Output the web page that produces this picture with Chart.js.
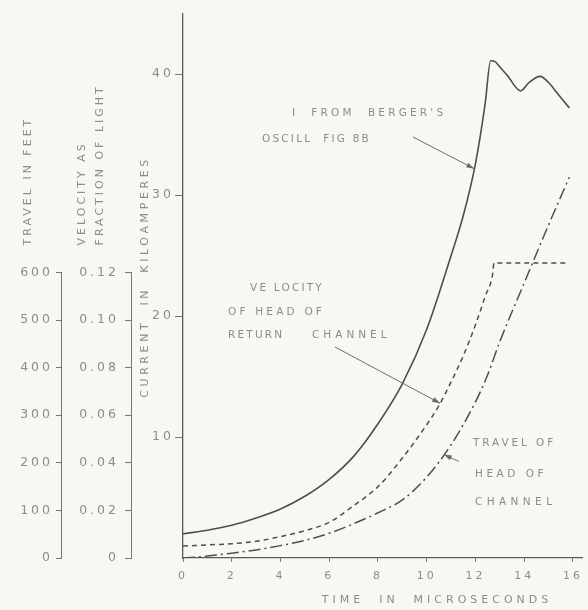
<!DOCTYPE html>
<html>
<head>
<meta charset="utf-8">
<script src="https://cdn.jsdelivr.net/npm/chart.js@4.4.1/dist/chart.umd.min.js"></script>
<style>
  html, body { margin: 0; padding: 0; background: #f7f7f4; }
  canvas { display: block; }
</style>
</head>
<body>
<canvas id="chart" width="588" height="610"></canvas>
<script>
// Tick values for each axis
const timeTicks = [0, 2, 4, 6, 8, 10, 12, 14, 16];
const currentTicks = [10, 20, 30, 40];
const travelTicks = [0, 100, 200, 300, 400, 500, 600];
const velocityTicks = [0, 0.02, 0.04, 0.06, 0.08, 0.10, 0.12];
const velocityTickLabels = ['0', '0.02', '0.04', '0.06', '0.08', '0.10', '0.12'];

// Current from Berger's oscillogram (kA) against time (microseconds)
const currentTime = [0, 1, 2, 3, 4, 5, 6, 7, 8, 9, 10, 11, 11.5, 12, 12.4, 12.62, 12.82, 12.95, 13.3, 13.85, 14.2, 14.65, 15.0, 15.4, 15.85];
const currentKA   = [2.0, 2.3, 2.7, 3.3, 4.05, 5.1, 6.5, 8.4, 11.1, 14.4, 18.9, 25.0, 28.3, 32.6, 37.6, 41.1, 41.0, 40.7, 39.9, 38.6, 39.3, 39.8, 39.3, 38.3, 37.2];

// Velocity of head of return channel, as a fraction of the speed of light
const velocityTime = [0, 1, 2, 3, 4, 5, 6, 7, 8, 9, 10, 10.5, 11, 11.5, 12, 12.4, 12.7, 12.76, 15.85];
const velocity     = [0.005, 0.0055, 0.006, 0.007, 0.009, 0.0115, 0.015, 0.022, 0.030, 0.042, 0.056, 0.064, 0.074, 0.085, 0.098, 0.110, 0.119, 0.124, 0.124];

// Travel of head of channel (feet)
const travelTime = [0, 1, 2, 3, 4, 5, 6, 7, 8, 9, 10, 11, 12, 12.5, 13, 14, 15, 15.85];
const travelFt   = [0, 4, 10, 17, 26, 37, 52, 72, 95, 122, 170, 238, 328, 385, 455, 578, 700, 800];

// Scale ranges: the 600 ft / 0.12 c level sits at 23.6 kA on the current scale
const xMax = 16.4;
const iMax = 45;
const levelKA = 23.6;
const travelMax = 600 * iMax / levelKA;
const velocityMax = 0.12 * iMax / levelKA;

const INK = '#4e4e4e';
const TEXT = '#8c8c8c';
const FONT = "'DejaVu Sans', sans-serif";

const toXY = (xs, ys) => xs.map((t, i) => ({ x: t, y: ys[i] }));

function valueAt(xs, ys, t) {
  for (let i = 1; i < xs.length; i++) {
    if (t <= xs[i]) {
      const f = (t - xs[i - 1]) / (xs[i] - xs[i - 1]);
      return ys[i - 1] + f * (ys[i] - ys[i - 1]);
    }
  }
  return ys[ys.length - 1];
}

function spacedText(ctx, text, x, y, size, spacing, align) {
  ctx.font = size + 'px ' + FONT;
  ctx.letterSpacing = spacing + 'px';
  ctx.textAlign = align || 'left';
  ctx.textBaseline = 'middle';
  ctx.fillText(text, x, y);
}

function arrow(ctx, x0, y0, x1, y1, head) {
  ctx.beginPath();
  ctx.moveTo(x0, y0);
  ctx.lineTo(x1, y1);
  ctx.stroke();
  if (!head) return;
  const a = Math.atan2(y1 - y0, x1 - x0);
  const L = 8, W = 2.6;
  ctx.beginPath();
  ctx.moveTo(x1, y1);
  ctx.lineTo(x1 - L * Math.cos(a) + W * Math.sin(a), y1 - L * Math.sin(a) - W * Math.cos(a));
  ctx.lineTo(x1 - L * Math.cos(a) - W * Math.sin(a), y1 - L * Math.sin(a) + W * Math.cos(a));
  ctx.closePath();
  ctx.fill();
}

const tickSpacing = {
  id: 'tickSpacing',
  beforeDraw(chart) { chart.ctx.letterSpacing = '3px'; }
};

const annotations = {
  id: 'annotations',
  afterDraw(chart) {
    const { ctx } = chart;
    const { x, yI, yV, yT } = chart.scales;
    ctx.save();

    // partial axis lines for travel and velocity
    ctx.strokeStyle = '#777';
    ctx.lineWidth = 1;
    [[yT, 600], [yV, 0.12]].forEach(([s, top]) => {
      const px = Math.round(s.right) - 0.5;
      ctx.beginPath();
      ctx.moveTo(px, s.getPixelForValue(top));
      ctx.lineTo(px, s.getPixelForValue(0));
      ctx.stroke();
    });

    // axis titles
    ctx.fillStyle = TEXT;
    const titleBase = yT.getPixelForValue(600) - 27;
    const rotated = (text, cx, y, size, sp, align) => {
      ctx.save();
      ctx.translate(cx, y);
      ctx.rotate(-Math.PI / 2);
      spacedText(ctx, text, 0, 0, size, sp, align);
      ctx.restore();
    };
    rotated('TRAVEL IN FEET', 28, titleBase, 11, 3, 'left');
    rotated('VELOCITY AS', 82, titleBase, 11, 3, 'left');
    rotated('FRACTION OF LIGHT', 100, titleBase, 11, 3, 'left');
    rotated('CURRENT  IN  KILOAMPERES', 145, 277, 11, 3.6, 'center');
    spacedText(ctx, 'TIME  IN  MICROSECONDS', 437, 600, 11, 4, 'center');

    // curve labels
    spacedText(ctx, "I  FROM  BERGER'S", 292, 113, 10.5, 3.2, 'left');
    spacedText(ctx, 'OSCILL  FIG 8B', 262, 139, 10.5, 2.2, 'left');
    spacedText(ctx, 'VE LOCITY', 250, 288, 10.5, 2.2, 'left');
    spacedText(ctx, 'OF HEAD OF', 228, 312, 10.5, 3.2, 'left');
    spacedText(ctx, 'RETURN', 228, 335, 10.5, 2.2, 'left');
    spacedText(ctx, 'CHANNEL', 312, 335, 10.5, 4, 'left');
    spacedText(ctx, 'TRAVEL OF', 473, 443, 10.5, 2.9, 'left');
    spacedText(ctx, 'HEAD OF', 475, 474, 10.5, 3.5, 'left');
    spacedText(ctx, 'CHANNEL', 475, 502, 10.5, 4.4, 'left');

    // leader arrows onto the curves
    ctx.strokeStyle = '#6a6a6a';
    ctx.fillStyle = '#6a6a6a';
    ctx.lineWidth = 1;
    const tI = 11.95;
    arrow(ctx, 413, 137, x.getPixelForValue(tI), yI.getPixelForValue(valueAt(currentTime, currentKA, tI)), true);
    const tV = 10.55;
    arrow(ctx, 335, 347, x.getPixelForValue(tV), yV.getPixelForValue(valueAt(velocityTime, velocity, tV)), true);
    const tT = 10.7;
    const px = x.getPixelForValue(tT), py = yT.getPixelForValue(valueAt(travelTime, travelFt, tT));
    arrow(ctx, px + 15, py + 7, px, py, true);

    ctx.restore();
  }
};

const fixedTicks = (values) => (scale) => { scale.ticks = values.map(v => ({ value: v })); };

new Chart(document.getElementById('chart'), {
  type: 'line',
  data: {
    datasets: [
      {
        label: 'Current',
        data: toXY(currentTime, currentKA),
        yAxisID: 'yI',
        borderColor: INK,
        borderWidth: 1.6,
        pointRadius: 0,
        cubicInterpolationMode: 'monotone',
        fill: false
      },
      {
        label: 'Velocity',
        data: toXY(velocityTime, velocity),
        yAxisID: 'yV',
        borderColor: INK,
        borderWidth: 1.5,
        borderDash: [5, 4],
        pointRadius: 0,
        cubicInterpolationMode: 'monotone',
        fill: false
      },
      {
        label: 'Travel',
        data: toXY(travelTime, travelFt),
        yAxisID: 'yT',
        borderColor: INK,
        borderWidth: 1.5,
        borderDash: [12, 4, 2, 4],
        pointRadius: 0,
        cubicInterpolationMode: 'monotone',
        fill: false
      }
    ]
  },
  options: {
    responsive: false,
    animation: false,
    devicePixelRatio: 1,
    layout: { padding: { top: 12, right: 1, bottom: 0, left: 0 } },
    plugins: { legend: { display: false }, tooltip: { enabled: false } },
    scales: {
      x: {
        type: 'linear',
        position: 'bottom',
        min: 0,
        max: xMax,
        afterBuildTicks: fixedTicks(timeTicks),
        afterFit: (s) => { s.height = 52; },
        grid: { drawOnChartArea: false, drawTicks: true, tickLength: 4, color: '#777' },
        border: { display: true, color: '#5a5a5a', width: 1.3 },
        ticks: { color: TEXT, font: { family: FONT, size: 11 }, padding: 8, maxRotation: 0, callback: (v) => String(v) }
      },
      yI: {
        type: 'linear',
        position: 'left',
        weight: 1,
        min: 0,
        max: iMax,
        afterBuildTicks: fixedTicks(currentTicks),
        afterFit: (s) => { s.width = 51; },
        grid: { drawOnChartArea: false, drawTicks: true, tickLength: 8, color: '#777' },
        border: { display: true, color: '#5a5a5a', width: 1.3 },
        ticks: { color: TEXT, font: { family: FONT, size: 12.5 }, padding: 1, callback: (v) => String(v) }
      },
      yV: {
        type: 'linear',
        position: 'left',
        weight: 2,
        min: 0,
        max: velocityMax,
        afterBuildTicks: fixedTicks(velocityTicks),
        afterFit: (s) => { s.width = 70; },
        grid: { drawOnChartArea: false, drawTicks: true, tickLength: 7, color: '#777' },
        border: { display: false },
        ticks: {
          color: TEXT, font: { family: FONT, size: 12.5 }, padding: 6,
          callback: (v) => velocityTickLabels[velocityTicks.findIndex(t => Math.abs(t - v) < 1e-9)]
        }
      },
      yT: {
        type: 'linear',
        position: 'left',
        weight: 3,
        min: 0,
        max: travelMax,
        afterBuildTicks: fixedTicks(travelTicks),
        afterFit: (s) => { s.width = 62; },
        grid: { drawOnChartArea: false, drawTicks: true, tickLength: 6, color: '#777' },
        border: { display: false },
        ticks: { color: TEXT, font: { family: FONT, size: 12.5 }, padding: 3, callback: (v) => String(v) }
      }
    }
  },
  plugins: [tickSpacing, annotations]
});
</script>
</body>
</html>
